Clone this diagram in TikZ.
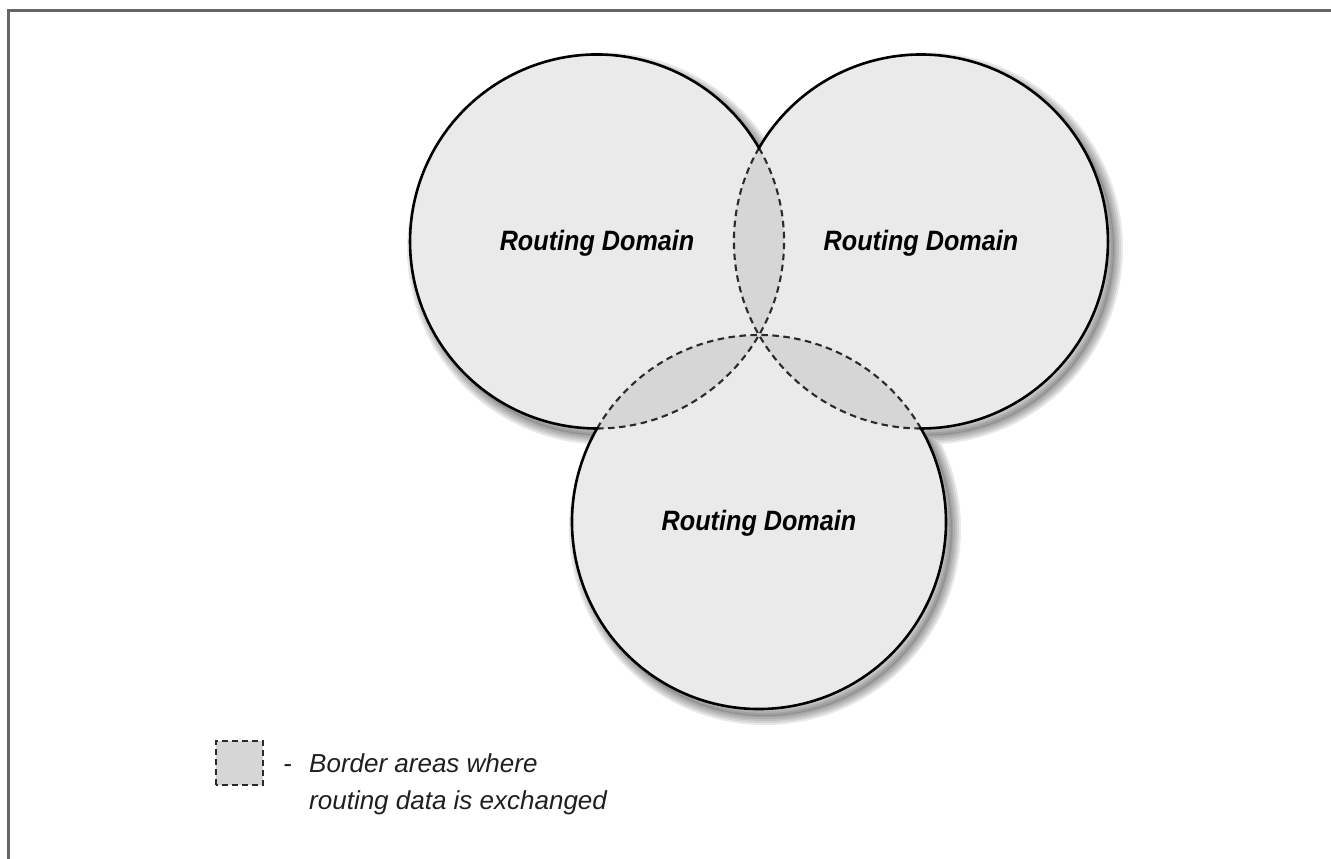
\documentclass[tikz,border=0pt]{standalone}
\usepackage{fontspec}
\setmainfont{Liberation Sans}
\newfontfamily\labelfont[FakeStretch=0.9]{Liberation Sans}
\usetikzlibrary{calc}
\definecolor{domainfill}{HTML}{EAEAEA}
\definecolor{lensfill}{HTML}{D6D6D6}
\definecolor{dashcol}{HTML}{2A2A2A}
\definecolor{framecol}{HTML}{666666}
\newcommand\unionoutline{++(30:187) arc[start angle=30,end angle=270,radius=187] arc[start angle=150,end angle=390,radius=187] arc[start angle=270,end angle=510,radius=187] -- cycle}
\begin{document}
\begin{tikzpicture}[x=1pt,y=1pt,
  outline/.style={draw=black, line width=2.6pt, line join=miter},
  borderdash/.style={draw=dashcol, line width=2.1pt, dash pattern=on 6.5pt off 4.5pt},
  domainlabel/.style={font=\labelfont\bfseries\itshape\fontsize{28}{30}\selectfont, anchor=base, inner sep=0pt},
  legendtext/.style={font=\itshape\fontsize{26}{30}\selectfont, text=black!88, anchor=base west, inner sep=0pt},
  shadowlayer/.style={draw=black, line join=round, opacity=0.09}]
\useasboundingbox (0,0) rectangle (1331,859);
% frame
\draw[framecol, line width=3pt] (8,0) -- (8,848) -- (1331,848);
% geometry: three equal circles through a common point P
\coordinate (P) at (759,524);
\coordinate (O1) at ($(P)+(150:187)$);
\coordinate (O2) at ($(P)+(30:187)$);
\coordinate (O3) at ($(P)+(270:187)$);
% soft shadow
\foreach \w in {18,14,10,6,2}{
  \draw[shadowlayer, line width=\w pt] ([shift={(6pt,-7pt)}]O1) \unionoutline;
}
\fill[black, opacity=0.09] ([shift={(6pt,-7pt)}]O1) \unionoutline;
% domains
\fill[domainfill] (O1) \unionoutline;
% border (overlap) areas
\begin{scope}
  \clip (O1) circle[radius=187];
  \fill[lensfill] (O2) circle[radius=187];
\end{scope}
\begin{scope}
  \clip (O1) circle[radius=187];
  \fill[lensfill] (O3) circle[radius=187];
\end{scope}
\begin{scope}
  \clip (O2) circle[radius=187];
  \fill[lensfill] (O3) circle[radius=187];
\end{scope}
\draw[borderdash] (O1) ++(270:187) arc[start angle=270,end angle=390,radius=187];
\draw[borderdash] (O2) ++(150:187) arc[start angle=150,end angle=270,radius=187];
\draw[borderdash] (O3) ++(30:187) arc[start angle=30,end angle=150,radius=187];
% outer outline
\draw[outline] (O1) \unionoutline;
% labels
\node[domainlabel, yshift=-9pt] (d1) at (O1) {Routing Domain};
\node[domainlabel, yshift=-9pt] (d2) at (O2) {Routing Domain};
\node[domainlabel, yshift=-9pt] (d3) at (O3) {Routing Domain};
% legend
\draw[borderdash, fill=lensfill, line width=2pt, dash pattern=on 6pt off 4pt] (216,74) rectangle (263,118);
\node[legendtext] (ldash) at (283,86) {-};
\node[legendtext] (l1) at (309,86) {Border areas where};
\node[legendtext] (l2) at (309,49) {routing data is exchanged};
\end{tikzpicture}
\end{document}
